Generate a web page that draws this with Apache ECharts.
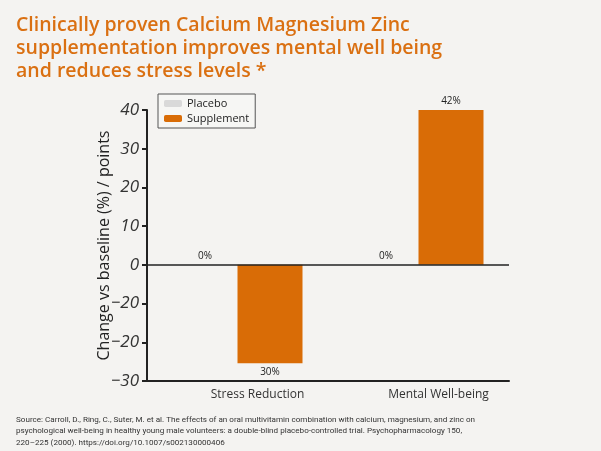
<!DOCTYPE html>
<html>
<head>
<meta charset="UTF-8">
<title></title>
<script src="https://cdn.jsdelivr.net/npm/echarts@6/dist/echarts.min.js"></script>
<style>
  html, body { margin: 0; padding: 0; background: #f4f3f1; }
  #main { width: 601px; height: 451px; }
</style>
</head>
<body>
<div id="main"></div>
<script>
// data
var categories = ['Stress Reduction', 'Mental Well-being'];
var placebo = [0, 0];
var supplement = [-25.4, 41.5];
var placeboLabels = ['0%', '0%'];
var supplementLabels = ['30%', '42%'];
// tick labels as printed (the -10 tick reads "-20" in the original)
var tickValues = [-30, -20, -10, 0, 10, 20, 30, 40];
var tickLabels = ['\u221230', '\u221220', '\u221220', '0', '10', '20', '30', '40'];

var orange = '#d96c06';
var ink = '#222222';
var font = 'Open Sans';

function labelled(values, texts) {
    return values.map(function (v, i) {
        return {
            value: v,
            label: { position: v < 0 ? 'bottom' : 'top', formatter: texts[i] }
        };
    });
}

var myChart = echarts.init(document.getElementById('main'));
var option = {
    backgroundColor: '#f4f3f1',
    animation: false,
    textStyle: { fontFamily: font },
    title: [
        {
            text: 'Clinically proven Calcium Magnesium Zinc\nsupplementation improves mental well being\nand reduces stress levels *',
            left: 11,
            top: 9,
            textStyle: { color: '#da7012', fontSize: 19.5, fontWeight: 600, lineHeight: 23, fontFamily: font }
        },
        {
            text: 'Source: Carroll, D., Ring, C., Suter, M. et al. The effects of an oral multivitamin combination with calcium, magnesium, and zinc on\npsychological well-being in healthy young male volunteers: a double-blind placebo-controlled trial. Psychopharmacology 150,\n220\u2013225 (2000). https://doi.org/10.1007/s002130000406',
            left: 11,
            top: 409,
            textStyle: { color: '#333', fontSize: 8.1, fontWeight: 'normal', lineHeight: 11.5, fontFamily: 'Roboto' }
        }
    ],
    legend: {
        orient: 'vertical',
        left: 158,
        top: 94,
        padding: [4, 6],
        itemGap: 4,
        itemWidth: 18,
        itemHeight: 7,
        borderColor: '#555',
        borderWidth: 1,
        backgroundColor: '#f6f6f4',
        textStyle: { color: ink, fontSize: 11, fontFamily: font },
        data: ['Placebo', 'Supplement']
    },
    grid: { left: 147, right: 92, top: 110, bottom: 70, containLabel: false },
    xAxis: {
        type: 'category',
        data: categories,
        axisLine: { onZero: false, lineStyle: { color: ink, width: 2 } },
        axisTick: { show: false },
        axisLabel: { color: '#333', fontSize: 12, margin: 8, padding: [0, 0, 0, 40] }
    },
    yAxis: {
        type: 'value',
        min: -30,
        max: 40,
        interval: 10,
        name: 'Change vs baseline (%) / points',
        nameLocation: 'middle',
        nameGap: 35,
        nameMoveOverlap: false,
        nameTextStyle: { color: ink, fontSize: 16, fontFamily: font },
        axisLine: { show: true, lineStyle: { color: ink, width: 2 } },
        axisTick: { show: true, length: 5, lineStyle: { color: ink, width: 2 } },
        splitLine: { show: false },
        axisLabel: {
            color: '#333',
            fontSize: 17,
            fontStyle: 'italic',
            margin: 8,
            formatter: function (v) {
                var i = tickValues.indexOf(v);
                return i >= 0 ? tickLabels[i] : '';
            }
        }
    },
    series: [
        {
            name: 'Placebo',
            type: 'bar',
            barWidth: 65,
            barGap: '0%',
            itemStyle: { color: '#d9d9d9' },
            label: { show: true, color: ink, fontSize: 10, distance: 4 },
            data: labelled(placebo, placeboLabels),
            markLine: {
                silent: true,
                symbol: 'none',
                label: { show: false },
                lineStyle: { color: ink, width: 1.5, type: 'solid' },
                data: [{ yAxis: 0 }]
            }
        },
        {
            name: 'Supplement',
            type: 'bar',
            barWidth: 65,
            itemStyle: { color: orange },
            label: { show: true, color: ink, fontSize: 10, distance: 4 },
            data: labelled(supplement, supplementLabels)
        }
    ]
};
myChart.setOption(option);
</script>
</body>
</html>
